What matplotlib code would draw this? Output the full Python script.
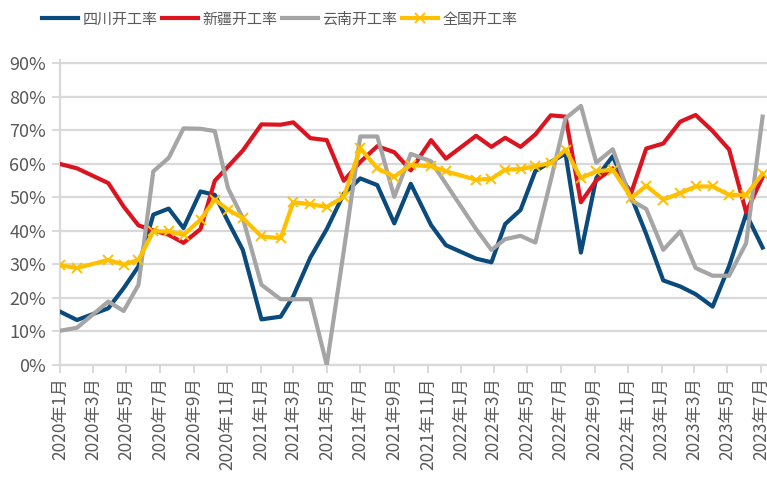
import pandas as pd
import matplotlib
matplotlib.use("Agg")
import matplotlib.pyplot as plt

plt.rcParams['font.family'] = ['Noto Sans CJK SC', 'DejaVu Sans']

# data (percent)
dates = pd.to_datetime([
    '2020-01-01', '2020-02-01', '2020-03-29', '2020-04-26', '2020-05-23', '2020-06-19',
    '2020-07-17', '2020-08-13', '2020-09-13', '2020-10-09', '2020-11-02', '2020-11-29',
    '2021-01-02', '2021-02-06', '2021-03-01', '2021-04-01', '2021-05-01', '2021-06-01',
    '2021-07-01', '2021-08-01', '2021-09-01', '2021-10-01', '2021-11-07', '2021-12-04',
    '2022-01-28', '2022-02-25', '2022-03-22', '2022-04-19', '2022-05-16', '2022-06-13',
    '2022-07-10', '2022-08-07', '2022-09-04', '2022-10-04', '2022-11-07', '2022-12-04',
    '2023-01-04', '2023-02-04', '2023-03-04', '2023-04-04', '2023-05-04', '2023-06-04',
    '2023-07-04'])

sichuan = [15.9, 13.4, 16.9, 22.9, 29.4, 44.8, 46.6, 40.8, 51.7, 50.7, 42.8, 34.3,
           13.6, 14.4, 20.5, 32.0, 40.5, 51.0, 55.6, 53.6, 42.2, 54.0, 41.7, 35.7,
           31.7, 30.6, 42.0, 46.2, 57.8, 60.5, 63.0, 33.5, 55.7, 62.2, 50.0, 39.0,
           25.2, 23.4, 21.1, 17.4, 29.5, 45.0, 35.0]
xinjiang = [59.9, 58.6, 54.2, 47.2, 41.6, 40.1, 38.8, 36.4, 40.5, 54.9, 59.1, 63.9,
            71.7, 71.6, 72.3, 67.6, 67.0, 54.9, 60.5, 65.2, 63.4, 58.0, 67.0, 61.5,
            68.3, 65.0, 67.7, 65.0, 68.7, 74.4, 74.0, 48.5, 55.0, 58.6, 51.5, 64.5,
            66.0, 72.5, 74.5, 69.7, 64.2, 45.5, 56.0]
yunnan = [10.2, 11.1, 18.9, 16.1, 23.9, 57.7, 61.7, 70.5, 70.4, 69.7, 52.7, 43.8,
          23.9, 19.6, 19.6, 19.6, 0.0, 34.0, 68.1, 68.1, 50.1, 62.9, 60.7, 54.0,
          40.5, 34.3, 37.5, 38.5, 36.5, 55.0, 73.5, 77.2, 60.3, 64.3, 49.0, 46.5,
          34.3, 39.8, 28.9, 26.6, 26.6, 36.3, 74.0]
national = [29.7, 28.9, 31.3, 29.9, 31.3, 39.8, 39.8, 38.8, 43.3, 49.3, 46.3, 43.8,
            38.3, 37.8, 48.5, 47.9, 47.1, 50.1, 64.6, 58.6, 56.1, 59.6, 59.2, 57.7,
            55.2, 55.5, 58.2, 58.4, 59.2, 60.2, 64.2, 55.7, 57.7, 58.2, 49.8, 53.4,
            49.3, 51.2, 53.2, 53.2, 50.7, 50.7, 57.0]

series_names = ['四川开工率', '新疆开工率', '云南开工率', '全国开工率']
tick_dates = pd.date_range('2020-01-01', '2023-07-01', freq='2MS')
y_ticks = list(range(0, 100, 10))

grid_c = '#d9d9d9'
text_c = '#595959'

fig = plt.figure(figsize=(7.67, 4.87), dpi=100)
ax = fig.add_axes([60 / 767, 122 / 487, 707 / 767, 305.4 / 487])

ax.plot(dates, sichuan, color='#0b4a7c', lw=3.0, label=series_names[0], zorder=3)
ax.plot(dates, xinjiang, color='#dc1420', lw=3.0, label=series_names[1], zorder=3)
ax.plot(dates, yunnan, color='#a5a5a5', lw=3.0, label=series_names[2], zorder=3)
ax.plot(dates, national, color='#ffc000', lw=3.0, marker='x', markersize=7.5,
        markeredgewidth=1.4, label=series_names[3], zorder=4)

ax.set_ylim(0, 91)
ax.set_xlim(pd.Timestamp('2020-01-01'), pd.Timestamp('2023-07-12'))
ax.set_yticks(y_ticks)
ax.set_yticklabels([f'{v}%' for v in y_ticks])
ax.set_xticks(tick_dates)
ax.set_xticklabels([f'{d.year}年{d.month}月' for d in tick_dates], rotation=90)

ax.grid(axis='y', color=grid_c, lw=1.6, zorder=0)
for s in ['top', 'right']:
    ax.spines[s].set_visible(False)
for s in ['left', 'bottom']:
    ax.spines[s].set_color(grid_c)
    ax.spines[s].set_linewidth(1.6)
ax.tick_params(axis='both', colors=grid_c, width=1.4, length=6, labelcolor=text_c)
ax.tick_params(axis='y', labelsize=13, pad=4)
ax.tick_params(axis='x', labelsize=12.5, pad=3)

fig.legend(loc='upper left', bbox_to_anchor=(33 / 767, 0.993), ncol=4, frameon=False,
           fontsize=10.8, handlelength=2.4, handletextpad=0.3, columnspacing=0.3,
           labelcolor=text_c, borderaxespad=0.2)

fig.savefig('out.png', dpi=100)
